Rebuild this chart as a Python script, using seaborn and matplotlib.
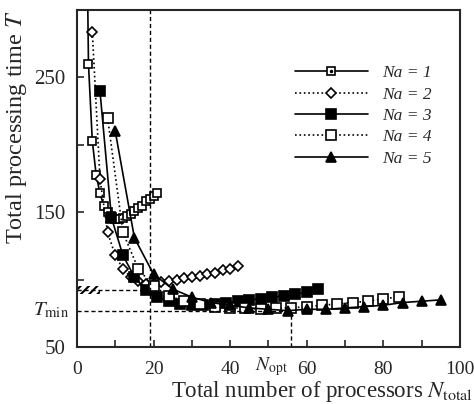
import matplotlib
matplotlib.use("Agg")
import matplotlib.pyplot as plt
import seaborn as sns
import numpy as np
import pandas as pd
from matplotlib.legend_handler import HandlerTuple
from matplotlib.lines import Line2D

# ---- data ----
na1_x = [2, 3, 4, 5, 6, 7, 8, 9, 10, 11, 12, 13, 14, 15, 16, 17, 18, 19, 20, 21]
na1_y = [500, 260, 203, 178, 164, 155, 150, 147, 145, 145, 146, 147, 149, 151, 153, 155, 158, 160, 162, 164]

na2_x = [4, 6, 8, 10, 12, 14, 16, 18, 20, 22, 24, 26, 28, 30, 32, 34, 36, 38, 40, 42]
na2_y = [284, 175, 135, 118, 108, 102, 99, 97, 97, 98, 99, 100, 101, 102, 103, 104, 105, 107, 108, 110]

na3_x = [6, 9, 12, 15, 18, 21, 24, 27, 30, 33, 36, 39, 42, 45, 48, 51, 54, 57, 60, 63]
na3_y = [240, 146, 118, 102, 92, 87, 84, 82, 81, 81, 82, 83, 84, 85, 86, 87, 88, 89, 91, 93]

na4_x = [8, 12, 16, 20, 24, 28, 32, 36, 40, 44, 48, 52, 56, 60, 64, 68, 72, 76, 80, 84]
na4_y = [220, 135, 108, 95, 88, 84, 82, 80, 79, 79, 78, 79, 79, 80, 81, 82, 83, 84, 86, 87]

na5_x = [10, 15, 20, 25, 30, 35, 40, 45, 50, 55, 60, 65, 70, 75, 80, 85, 90, 95]
na5_y = [210, 131, 104, 93, 87, 83, 81, 79, 78, 77, 78, 78, 79, 80, 81, 83, 84, 85]

labels = ["Na = 1", "Na = 2", "Na = 3", "Na = 4", "Na = 5"]
T_min = 77
N_opt = 56
N_ref = 19
T_ref = 92
x_ticks = [0, 20, 40, 60, 80, 100]
y_ticks = [50, 150, 250]

# ---- style ----
sns.set_style("ticks")
plt.rcParams["font.family"] = ["Liberation Serif", "DejaVu Serif"]
plt.rcParams["mathtext.fontset"] = "stix"
plt.rcParams["hatch.linewidth"] = 1.5

fig = plt.figure(figsize=(4.74, 4.04), dpi=100)
ax = fig.add_axes([0.1624, 0.141, 0.808, 0.834])

series = [(na1_x, na1_y), (na2_x, na2_y), (na3_x, na3_y), (na4_x, na4_y), (na5_x, na5_y)]
styles = [
    dict(marker="s", mfc="white", ls="-"),
    dict(marker="D", mfc="white", ls=":"),
    dict(marker="s", mfc="black", ls="-"),
    dict(marker="s", mfc="white", ls=":"),
    dict(marker="^", mfc="black", ls="-"),
]
msizes = [6, 5, 6.5, 6.5, 7]

handles = []
for (xs, ys), st, ms, lab in zip(series, styles, msizes, labels):
    df = pd.DataFrame({"x": xs, "y": ys})
    sns.lineplot(data=df, x="x", y="y", ax=ax, color="black", linewidth=1.2,
                 linestyle=st["ls"], marker=st["marker"], markersize=ms,
                 markerfacecolor=st["mfc"], markeredgecolor="black",
                 markeredgewidth=1.2, sort=False, legend=False)
    h = Line2D([], [], color="black", linewidth=1.2, linestyle=st["ls"],
               marker=st["marker"], markersize=ms, markerfacecolor=st["mfc"],
               markeredgecolor="black", markeredgewidth=1.2)
    handles.append(h)

# dots inside the Na=1 squares
sns.scatterplot(x=na1_x, y=na1_y, ax=ax, color="black", s=3, marker="o",
                edgecolor="black", linewidth=0, legend=False)
dot = Line2D([], [], color="black", linestyle="none", marker="o", markersize=1.5)
handles[0] = (handles[0], dot)

# reference lines
ax.plot([0, N_ref], [T_ref, T_ref], color="black", ls=(0, (3, 2)), lw=1.0)
ax.axvline(N_ref, color="black", ls=(0, (3, 2)), lw=1.0)
ax.plot([0, N_opt], [T_min, T_min], color="black", ls=(0, (3, 2)), lw=1.0)
ax.plot([N_opt, N_opt], [50, T_min], color="black", ls=(0, (3, 2)), lw=1.0)
ax.fill_between([0, 6], 89, 95, hatch="////", facecolor="none",
                edgecolor="black", linewidth=0)

ax.set_xlim(0, 100)
ax.set_ylim(50, 300)
ax.set_xticks(x_ticks)
ax.set_xticks(np.arange(0, 101, 10), minor=True)
ax.set_yticks(y_ticks)
ax.set_yticks([100, 200], minor=True)
ax.tick_params(axis="both", which="both", direction="in", length=5, width=1.2)
ax.tick_params(axis="x", which="major", pad=10, labelsize=14)
ax.tick_params(axis="y", which="major", pad=8, labelsize=15)
for s in ax.spines.values():
    s.set_linewidth(1.5)
    s.set_visible(True)

ax.set_xlabel("")
ax.set_ylabel("Total processing time $T$", fontsize=17.5, loc="top", labelpad=4)
fig.text(0.998, 0.0, "Total number of processors $N_{\\mathrm{total}}$",
         ha="right", va="bottom", fontsize=16.5)

ax.text(-0.02, T_min, "$T_{\\mathrm{min}}$", transform=ax.get_yaxis_transform(),
        ha="right", va="center", fontsize=15)
ax.text(N_opt - 1, -0.025, "$N_{\\mathrm{opt}}$", transform=ax.get_xaxis_transform(),
        ha="right", va="top", fontsize=14)

leg = ax.legend(handles, labels, loc="upper right", bbox_to_anchor=(0.966, 0.883),
                frameon=False, handlelength=4.2, handletextpad=0.8,
                labelspacing=0.3, prop={"style": "italic", "size": 12.5},
                handler_map={tuple: HandlerTuple(ndivide=1, pad=0)})

fig.savefig("out.png", dpi=100)
